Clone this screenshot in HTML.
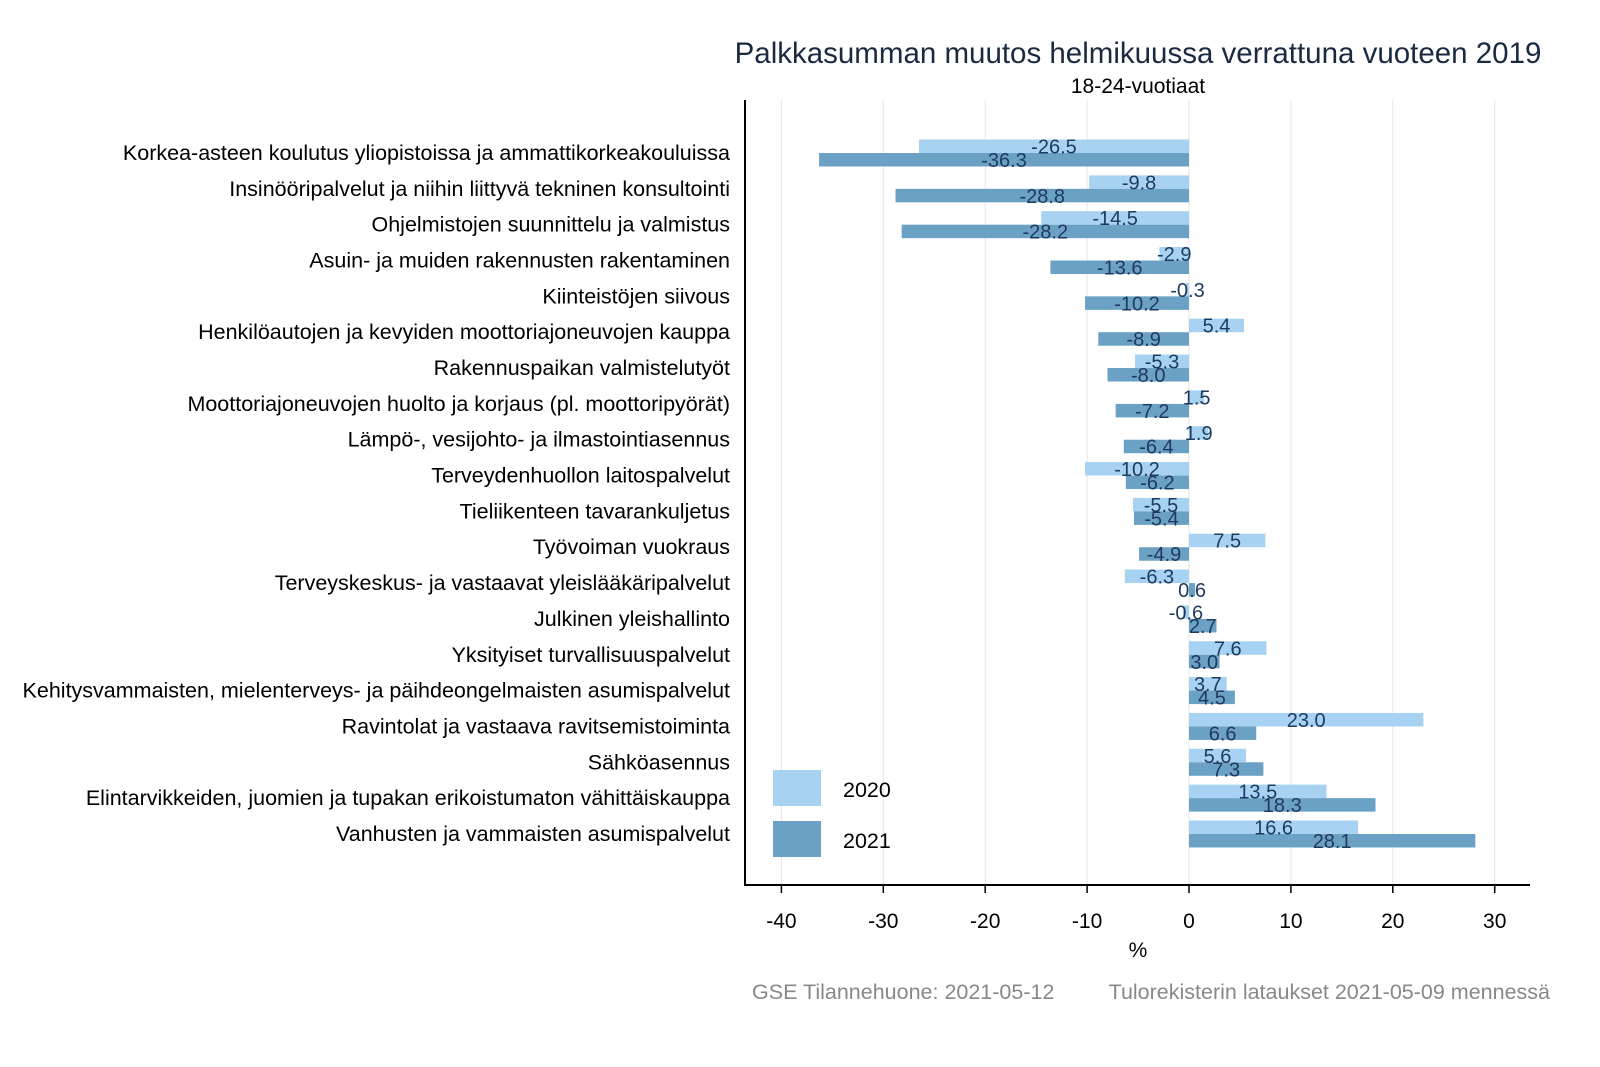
<!DOCTYPE html>
<html><head><meta charset="utf-8"><style>
html,body{margin:0;padding:0;background:#fff;overflow:hidden;width:1600px;height:1067px;}
svg{display:block;}
svg text{font-family:"Liberation Sans",sans-serif;}
</style></head><body>
<svg id="chart" width="1600" height="1067" xmlns="http://www.w3.org/2000/svg">
<text x="1138" y="63" font-size="29.5" fill="#1a2a40" text-anchor="middle">Palkkasumman muutos helmikuussa verrattuna vuoteen 2019</text>
<text x="1138" y="93" font-size="21" fill="#000" text-anchor="middle">18-24-vuotiaat</text>
<g id="grid"></g>
<g id="bars"></g>
<g id="labels"></g>
<line x1="745" y1="100" x2="745" y2="886" stroke="#000" stroke-width="2"/>
<line x1="744" y1="885" x2="1530" y2="885" stroke="#000" stroke-width="2"/>
<g id="ticks"></g>
<text x="1138" y="957" font-size="21" text-anchor="middle">%</text>
<rect x="773" y="770" width="48" height="36" fill="#a7d2f1"/>
<text x="843" y="797" font-size="21.5">2020</text>
<rect x="773" y="821" width="48" height="36" fill="#6aa1c4"/>
<text x="843" y="848" font-size="21.5">2021</text>
<text x="752" y="999" font-size="21.5" fill="#888">GSE Tilannehuone: 2021-05-12</text>
<text x="1550" y="999" font-size="21.5" fill="#888" text-anchor="end">Tulorekisterin lataukset 2021-05-09 mennessä</text>
</svg>
<script>
const categories=["Korkea-asteen koulutus yliopistoissa ja ammattikorkeakouluissa","Insinööripalvelut ja niihin liittyvä tekninen konsultointi","Ohjelmistojen suunnittelu ja valmistus","Asuin- ja muiden rakennusten rakentaminen","Kiinteistöjen siivous","Henkilöautojen ja kevyiden moottoriajoneuvojen kauppa","Rakennuspaikan valmistelutyöt","Moottoriajoneuvojen huolto ja korjaus (pl. moottoripyörät)","Lämpö-, vesijohto- ja ilmastointiasennus","Terveydenhuollon laitospalvelut","Tieliikenteen tavarankuljetus","Työvoiman vuokraus","Terveyskeskus- ja vastaavat yleislääkäripalvelut","Julkinen yleishallinto","Yksityiset turvallisuuspalvelut","Kehitysvammaisten, mielenterveys- ja päihdeongelmaisten asumispalvelut","Ravintolat ja vastaava ravitsemistoiminta","Sähköasennus","Elintarvikkeiden, juomien ja tupakan erikoistumaton vähittäiskauppa","Vanhusten ja vammaisten asumispalvelut"];
const values2020=[-26.5,-9.8,-14.5,-2.9,-0.3,5.4,-5.3,1.5,1.9,-10.2,-5.5,7.5,-6.3,-0.6,7.6,3.7,23.0,5.6,13.5,16.6];
const values2021=[-36.3,-28.8,-28.2,-13.6,-10.2,-8.9,-8.0,-7.2,-6.4,-6.2,-5.4,-4.9,0.6,2.7,3.0,4.5,6.6,7.3,18.3,28.1];
const ticks=[-40,-30,-20,-10,0,10,20,30];
const NS="http://www.w3.org/2000/svg";
const x=v=>1189+v*10.19;
const rowY=i=>153+i*35.84;
function mk(tag,attrs,parent,txt){const e=document.createElementNS(NS,tag);for(const k in attrs)e.setAttribute(k,attrs[k]);if(txt!==undefined)e.textContent=txt;document.getElementById(parent).appendChild(e);return e;}
ticks.forEach(t=>{
 const g=mk('line',{x1:x(t),x2:x(t),y1:100,y2:885,stroke:'#e6e6e6','stroke-width':1},'grid');
 
 
 const tl=mk('line',{x1:x(t),x2:x(t),y1:885,y2:893,stroke:'#000','stroke-width':1.5},'ticks');
 
 
 const tt=mk('text',{x:x(t),y:928,'font-size':21,'text-anchor':'middle'},'ticks',String(t));
 
 
});
categories.forEach((c,i)=>{
 const cy=rowY(i);
 const l=mk('text',{x:730,y:cy+7,'font-size':21.5,'text-anchor':'end'},'labels',c);
 
 
 [[values2020[i],'#a7d2f1',-13.5,'bar-2020'],[values2021[i],'#6aa1c4',0,'bar-2021']].forEach(([v,col,off,nm])=>{
  const r=mk('rect',{x:Math.min(x(0),x(v)),y:cy+off,width:Math.abs(x(v)-x(0)),height:13.5,fill:col},'bars');
  
  
  const t=mk('text',{x:x(v/2),y:cy+off+14,'font-size':20,'text-anchor':'middle',fill:'#1f3a5f'},'labels',v.toFixed(1));
  
  
 });
});
</script>
</body></html>
